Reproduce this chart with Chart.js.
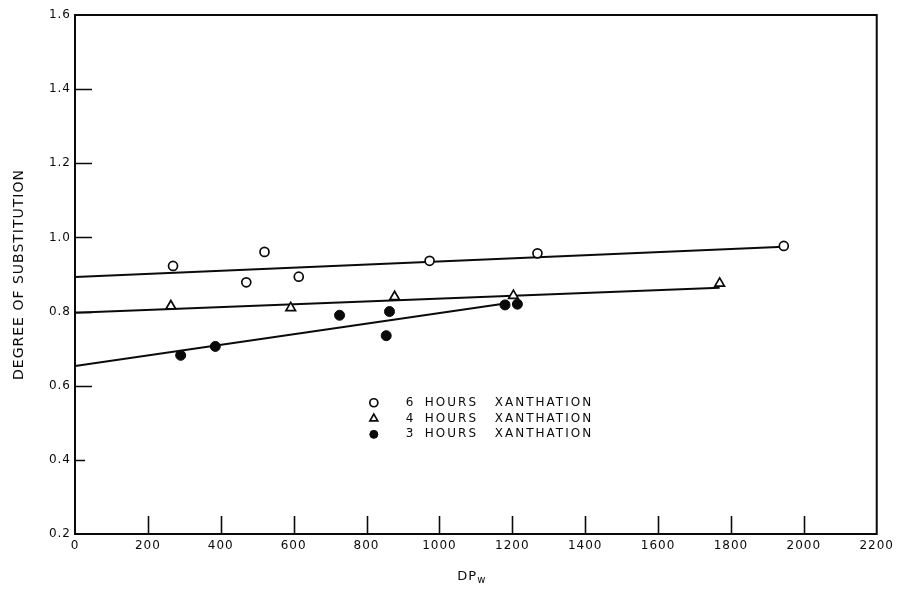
<!DOCTYPE html>
<html><head><meta charset="utf-8">
<script src="https://cdn.jsdelivr.net/npm/chart.js@4.4.1/dist/chart.umd.min.js"></script>
<style>html,body{margin:0;padding:0;background:#fff}#wrap{width:899px;height:589px}</style>
</head><body><div id="wrap"><canvas id="c" width="899" height="589"></canvas></div>
<script>
const xTicks = [0,200,400,600,800,1000,1200,1400,1600,1800,2000,2200];
const yTicks = [0.2,0.4,0.6,0.8,1.0,1.2,1.4,1.6];
const seriesHours = ["6","4","3"];
const legendWords = ["HOURS","XANTHATION"];
const yTitle = "DEGREE OF SUBSTITUTION";
const xTitleMain = "DP", xTitleSub = "w";

const dp6 = [269, 470, 520, 614, 973, 1269, 1945];
const ds6 = [0.923, 0.879, 0.961, 0.894, 0.937, 0.957, 0.977];
const dp4 = [263, 592, 877, 1203, 1769];
const ds4 = [0.815, 0.810, 0.840, 0.843, 0.876];
const dp3 = [290, 385, 726, 854, 863, 1180, 1214];
const ds3 = [0.682, 0.706, 0.790, 0.735, 0.800, 0.818, 0.820];
const fit6X = [0, 1945], fit6Y = [0.893, 0.975];
const fit4X = [0, 1769], fit4Y = [0.797, 0.864];
const fit3X = [0, 1190], fit3Y = [0.653, 0.823];

const pts = (xs, ys) => xs.map((x, i) => ({x, y: ys[i]}));
const FONT = '"DejaVu Sans", "Liberation Sans", sans-serif';
const INK = '#0a0a0a';

const markerStyles = [
  {pointStyle:'circle', radius:4.5, backgroundColor:'#fff', borderColor:INK, borderWidth:1.7},
  {pointStyle:'triangle', radius:5.5, backgroundColor:'#fff', borderColor:INK, borderWidth:1.7},
  {pointStyle:'circle', radius:5, backgroundColor:INK, borderColor:INK, borderWidth:1}
];

function lineDs(xs, ys) {
  return {type:'line', data: pts(xs, ys), showLine:true, borderColor:INK, borderWidth:2,
          pointRadius:0, fill:false, order:2};
}
function scatterDs(xs, ys, m) {
  return {type:'scatter', data: pts(xs, ys), pointStyle:m.pointStyle, pointRadius:m.radius,
          pointBackgroundColor:m.backgroundColor, pointBorderColor:m.borderColor,
          pointBorderWidth:m.borderWidth, showLine:false, order:1};
}

const spacingPlugin = {
  id:'spacing',
  beforeLayout(chart){ chart.ctx.letterSpacing = '1px'; },
  beforeDraw(chart){ chart.ctx.letterSpacing = '1px'; }
};

const decorPlugin = {
  id:'decor',
  afterDraw(chart){
    const ctx = chart.ctx, a = chart.chartArea;
    const xs = chart.scales.x, ys = chart.scales.y;
    ctx.save();
    ctx.strokeStyle = INK;
    ctx.lineWidth = 2;
    ctx.strokeRect(a.left, a.top, a.right - a.left, a.bottom - a.top);
    ctx.lineWidth = 1.6;
    ctx.beginPath();
    xTicks.forEach(v => {
      if (v === xs.min || v === xs.max) return;
      const px = Math.round(xs.getPixelForValue(v)) + 0.5;
      ctx.moveTo(px, a.bottom); ctx.lineTo(px, a.bottom - 18);
    });
    yTicks.forEach(v => {
      if (v === ys.min || v === ys.max) return;
      const py = Math.round(ys.getPixelForValue(v)) + 0.5;
      ctx.moveTo(a.left, py); ctx.lineTo(a.left + (v === 0.4 ? 10 : 17), py);
    });
    ctx.stroke();

    // legend
    const lx = xs.getPixelForValue(820), ly0 = ys.getPixelForValue(0.554);
    ctx.letterSpacing = '2px';
    ctx.font = '12px ' + FONT;
    ctx.fillStyle = INK;
    ctx.textBaseline = 'middle';
    seriesHours.forEach((h, i) => {
      const y = ly0 + i * 15.8;
      const m = markerStyles[i];
      ctx.save();
      ctx.fillStyle = m.backgroundColor; ctx.strokeStyle = m.borderColor; ctx.lineWidth = m.borderWidth;
      Chart.helpers.drawPoint(ctx, {pointStyle:m.pointStyle, radius: m.pointStyle==='triangle'?4.5:4, borderWidth:m.borderWidth, rotation:0}, lx, y);
      ctx.restore();
      ctx.textAlign = 'left';
      ctx.fillText(h, lx + 32, y);
      ctx.fillText(legendWords[0], lx + 51, y);
      ctx.fillText(legendWords[1], lx + 121, y);
    });

    // x title with subscript
    ctx.letterSpacing = '1px';
    ctx.textAlign = 'left';
    ctx.textBaseline = 'alphabetic';
    ctx.font = '13px ' + FONT;
    const mainW = ctx.measureText(xTitleMain).width;
    ctx.font = '10px ' + FONT;
    const subW = ctx.measureText(xTitleSub).width;
    const cx = (a.left + a.right) / 2 - 4;
    const bx = cx - (mainW + subW) / 2;
    ctx.font = '13px ' + FONT;
    ctx.fillText(xTitleMain, bx, 580);
    ctx.font = '10px ' + FONT;
    ctx.fillText(xTitleSub, bx + mainW, 583);
    ctx.restore();
  }
};

new Chart(document.getElementById('c'), {
  data: {
    datasets: [
      lineDs(fit6X, fit6Y), lineDs(fit4X, fit4Y), lineDs(fit3X, fit3Y),
      scatterDs(dp6, ds6, markerStyles[0]),
      scatterDs(dp4, ds4, markerStyles[1]),
      scatterDs(dp3, ds3, markerStyles[2])
    ]
  },
  options: {
    responsive:false, animation:false, devicePixelRatio:1,
    layout:{padding:{left:0, top:15, right:21, bottom:0}},
    plugins:{legend:{display:false}, tooltip:{enabled:false}},
    scales:{
      x:{type:'linear', min:0, max:2200,
         afterBuildTicks: s => { s.ticks = xTicks.map(v => ({value:v})); },
         afterFit: s => { s.height = 55; },
         grid:{display:false, drawTicks:false},
         border:{display:true, color:INK, width:2},
         ticks:{padding:5, color:INK, font:{family:FONT, size:12}, maxRotation:0, autoSkip:false,
                callback: v => String(v)}},
      y:{type:'linear', min:0.2, max:1.6,
         afterBuildTicks: s => { s.ticks = yTicks.map(v => ({value:v})); },
         afterFit: s => { s.width = 75; },
         grid:{display:false, drawTicks:false},
         border:{display:true, color:INK, width:2},
         title:{display:true, text:yTitle, color:INK, font:{family:FONT, size:14}, padding:{top:11, bottom:0}},
         ticks:{padding:4, color:INK, font:{family:FONT, size:12}, autoSkip:false,
                callback: v => Number(v).toFixed(1)}}
    }
  },
  plugins:[spacingPlugin, decorPlugin]
});
</script>
</body></html>
